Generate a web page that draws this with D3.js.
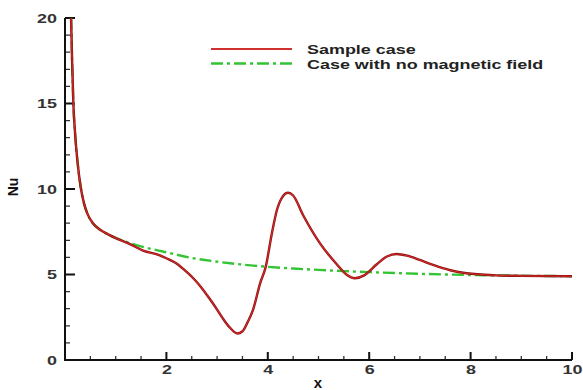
<!DOCTYPE html>
<html>
<head>
<meta charset="utf-8">
<script src="https://cdn.jsdelivr.net/npm/d3@7"></script>
<style>
  html, body { margin: 0; padding: 0; background: #fff; }
  svg { display: block; }
  text { font-family: "Liberation Sans", Arial, Helvetica, sans-serif; }
</style>
</head>
<body>
<svg id="chart" width="583" height="390"></svg>
<script>
// Nusselt number along the wall: magnetic case vs. reference case
const sampleX  = [0.12, 0.14, 0.165, 0.2, 0.25, 0.31, 0.38, 0.45, 0.55, 0.7, 0.85, 1.0, 1.25, 1.54, 1.87, 2.0, 2.2, 2.4, 2.53, 2.7, 2.86, 3.0, 3.12, 3.25, 3.4, 3.5, 3.6, 3.71, 3.85, 3.96, 4.08, 4.18, 4.28, 4.4, 4.5, 4.7, 5.03, 5.36, 5.55, 5.72, 5.9, 6.15, 6.35, 6.54, 6.75, 7.0, 7.26, 7.6, 7.92, 8.5, 9.0, 10.0];
const sampleNu = [20, 17.5, 15, 13.2, 11.5, 10.1, 9.1, 8.5, 8.0, 7.6, 7.35, 7.13, 6.82, 6.4, 6.12, 5.95, 5.65, 5.15, 4.78, 4.2, 3.55, 2.95, 2.4, 1.9, 1.55, 1.68, 2.2, 2.95, 4.5, 5.46, 7.4, 8.77, 9.5, 9.78, 9.62, 8.45, 6.82, 5.6, 5.0, 4.78, 4.95, 5.6, 6.05, 6.2, 6.1, 5.85, 5.56, 5.25, 5.07, 4.95, 4.92, 4.9];

const noFieldX  = [0.12, 0.14, 0.165, 0.2, 0.25, 0.31, 0.38, 0.45, 0.55, 0.7, 0.85, 1.0, 1.25, 1.5, 2.0, 2.5, 3.0, 3.5, 4.0, 4.5, 5.0, 5.5, 6.0, 7.0, 8.0, 9.0, 10.0];
const noFieldNu = [20, 17.5, 15, 13.2, 11.5, 10.1, 9.1, 8.5, 8.0, 7.6, 7.35, 7.15, 6.86, 6.64, 6.3, 5.97, 5.75, 5.58, 5.45, 5.35, 5.27, 5.2, 5.14, 5.04, 4.97, 4.93, 4.9];

const xMajorTicks = [2, 4, 6, 8, 10];
const yMajorTicks = [0, 5, 10, 15, 20];
const legendLabels = ["Sample case", "Case with no magnetic field"];

const svg = d3.select("#chart");
const x = d3.scaleLinear().domain([0, 10]).range([65, 572]);
const y = d3.scaleLinear().domain([0, 20]).range([360, 18]);

// widen glyphs horizontally to the figure's wide lettering
function widen(sel, k) {
  sel.each(function () {
    const w = this.getComputedTextLength();
    this.setAttribute("textLength", w * k);
    this.setAttribute("lengthAdjust", "spacingAndGlyphs");
  });
}

// axis lines with inward tick marks, as paths
const xMinor = d3.range(0.5, 10, 0.5).filter(v => !xMajorTicks.includes(v));
const yMinor = d3.range(1, 20, 1).filter(v => !yMajorTicks.includes(v));
const minorPath = xMinor.map(v => `M${x(v)},${y(0)}V${y(0) - 4}`).join("") +
                  yMinor.map(v => `M${x(0)},${y(v)}H${x(0) + 5}`).join("");
const majorPath = xMajorTicks.map(v => `M${x(v)},${y(0)}V${y(0) - 8}`).join("") +
                  yMajorTicks.map(v => `M${x(0)},${y(v)}H${x(0) + 10}`).join("") +
                  `M${x(0)},${y(20)}V${y(0)}H${x(10)}`;
svg.append("path").attr("d", minorPath).attr("fill", "none")
  .attr("stroke", "#333").attr("stroke-width", 1.3);
svg.append("path").attr("d", majorPath).attr("fill", "none")
  .attr("stroke", "#111").attr("stroke-width", 2);

// tick labels from D3 axes
const xAxis = svg.append("g").attr("transform", `translate(0,${y(0)})`)
  .call(d3.axisBottom(x).tickValues(xMajorTicks).tickSize(0).tickPadding(5).tickFormat(d3.format("d")));
const yAxis = svg.append("g").attr("transform", `translate(${x(0)},0)`)
  .call(d3.axisLeft(y).tickValues(yMajorTicks).tickSize(0).tickPadding(8).tickFormat(d3.format("d")));
[xAxis, yAxis].forEach(g => {
  g.select(".domain").remove();
  g.selectAll(".tick line").remove();
  g.selectAll(".tick text").attr("fill", "#333").attr("font-size", 13).attr("font-weight", "bold")
    .attr("font-family", "'Liberation Sans', Arial, sans-serif");
  widen(g.selectAll(".tick text"), 1.38);
});

// axis titles
svg.append("text").attr("x", 318).attr("y", 388).attr("text-anchor", "middle")
  .attr("font-size", 15).attr("font-weight", "bold").attr("fill", "#111").text("x");
svg.append("text").attr("transform", "translate(18,187) rotate(-90)").attr("text-anchor", "middle")
  .attr("font-size", 14).attr("font-weight", "bold").attr("fill", "#111").text("Nu");

const line = d3.line().x(d => x(d[0])).y(d => y(d[1])).curve(d3.curveMonotoneX);

// reference case: green dash-dot
svg.append("path")
  .datum(d3.zip(noFieldX, noFieldNu))
  .attr("d", line).attr("fill", "none")
  .attr("stroke", "#33c433").attr("stroke-width", 2.4)
  .attr("stroke-dasharray", "12,4,3,4");

// magnetic case: red solid with dark edge
const sampleData = d3.zip(sampleX, sampleNu);
svg.append("path").datum(sampleData).attr("d", line).attr("fill", "none")
  .attr("stroke", "#8a1010").attr("stroke-width", 2.4);
svg.append("path").datum(sampleData).attr("d", line).attr("fill", "none")
  .attr("stroke", "#d42a2a").attr("stroke-width", 1.1);

// legend
const legend = svg.append("g");
legend.append("line").attr("x1", 211).attr("x2", 292).attr("y1", 49).attr("y2", 49)
  .attr("stroke", "#d03030").attr("stroke-width", 2);
legend.append("line").attr("x1", 211).attr("x2", 292).attr("y1", 63.5).attr("y2", 63.5)
  .attr("stroke", "#33c433").attr("stroke-width", 2.4).attr("stroke-dasharray", "12,4,3,4");
const legendText = legend.selectAll("text.lab").data(legendLabels).enter().append("text")
  .attr("class", "lab")
  .attr("x", 307).attr("y", (d, i) => 53.5 + i * 15)
  .attr("font-size", 13).attr("font-weight", "bold").attr("fill", "#222")
  .text(d => d);
widen(legendText, 1.38);
</script>
</body>
</html>
